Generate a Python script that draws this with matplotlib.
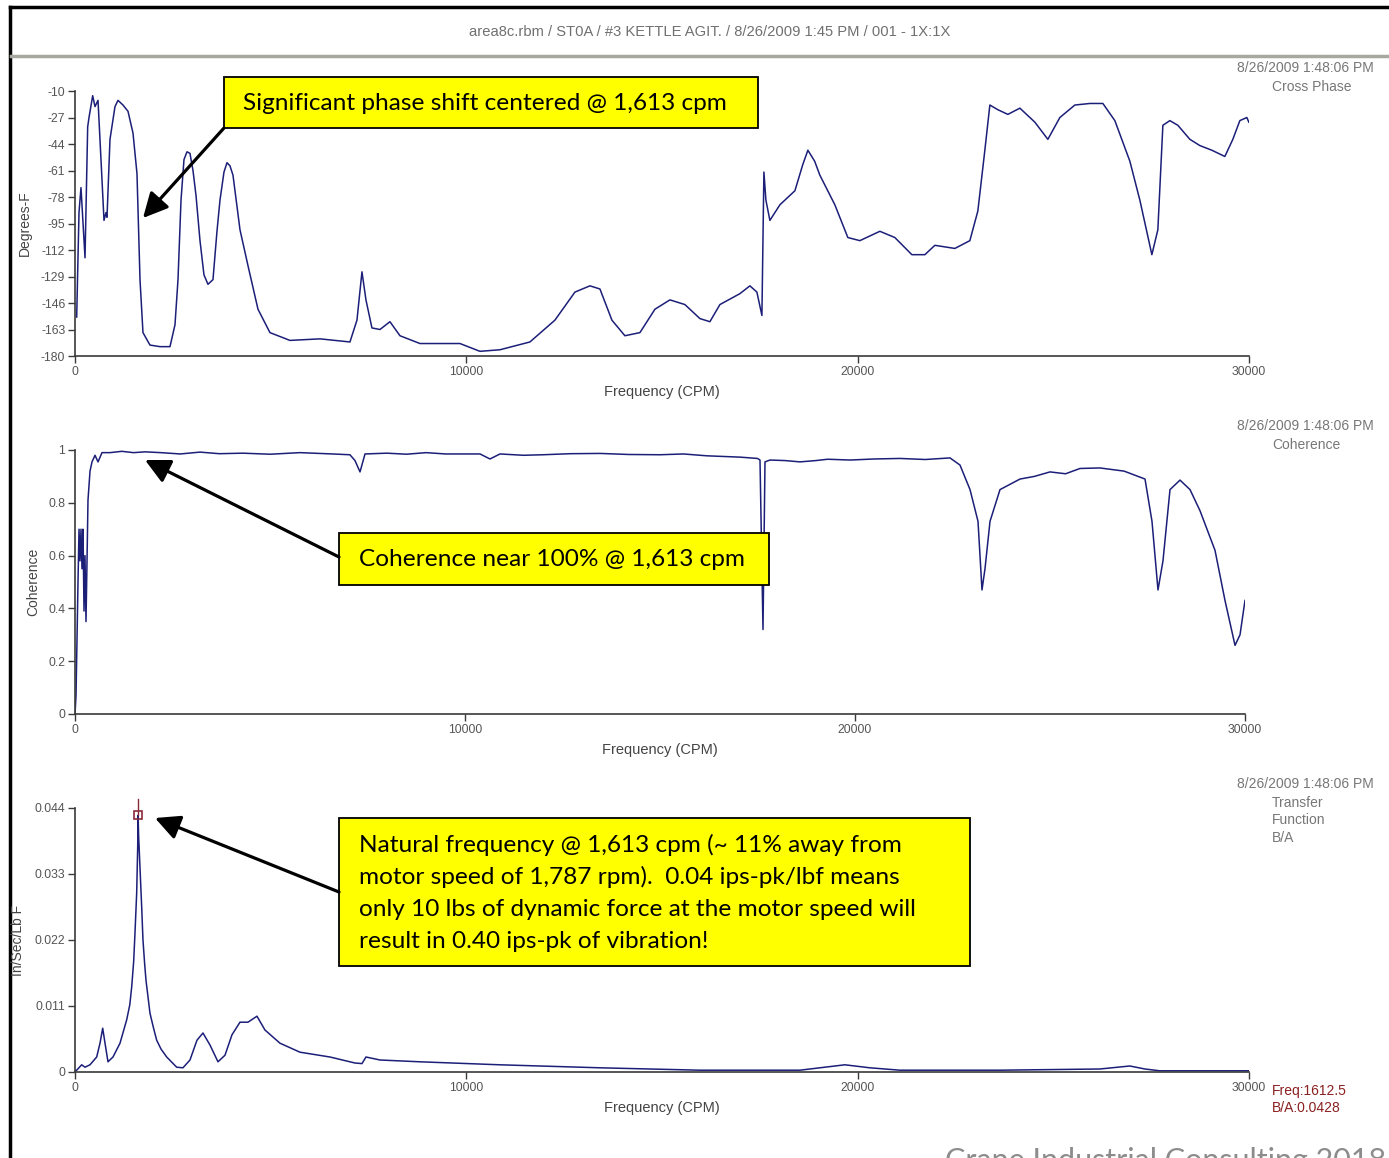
import matplotlib
matplotlib.use("Agg")
import matplotlib.pyplot as plt
from matplotlib.patches import Rectangle, FancyArrowPatch
from matplotlib.lines import Line2D

W, H = 1389, 1158

# ---------------- data ----------------
phase_cpm = [43, 102, 153, 256, 324, 358, 452, 511, 588, 682, 741, 792, 818, 894, 1022, 1099,
             1226, 1354, 1482, 1584, 1661, 1737, 1916, 2172, 2427, 2555, 2632, 2709, 2785, 2862,
             2938, 3015, 3092, 3194, 3296, 3398, 3526, 3628, 3705, 3807, 3884, 3960, 4037,
             4216, 4420, 4676, 4982, 5493, 6260, 7026, 7205, 7333,
             7435, 7588, 7793, 8048, 8304, 8815, 9837, 10348, 10859, 11625, 12264, 12775, 13158,
             13414, 13720, 14052, 14436, 14819, 15202, 15585, 15969, 16224, 16480, 16991, 17246,
             17425, 17553, 17604, 17655, 17757, 18013, 18396, 18600, 18728, 18900, 19034, 19417,
             19749, 20056, 20567, 20950, 21385, 21717, 21973, 22484, 22867, 23071, 23250, 23378,
             23582, 23838, 24145, 24528, 24860, 25167, 25550, 25934, 26266, 26572, 26955, 27211,
             27518, 27671, 27799, 27978, 28182, 28489, 28744, 29051, 29383, 29587, 29766, 29945,
             29996]
phase_deg = [-155, -88, -72, -117, -33, -27, -13, -20, -16, -63, -93, -88, -91, -41, -20, -16,
             -19, -23, -37, -63, -131, -165, -173, -174, -174, -160, -131, -80, -54, -49,
             -50, -61, -77, -106, -128, -134, -131, -100, -80, -62, -56, -58, -64,
             -99, -122, -150, -165, -170, -169, -171, -157, -126,
             -144, -162, -163, -158, -167, -172, -172, -177, -176, -171, -157, -139, -135,
             -137, -157, -167, -165, -150, -144, -147, -156, -158, -147, -140, -135,
             -139, -154, -62, -80, -93, -83, -74, -57, -48, -55, -64, -83,
             -104, -106, -100, -104, -115, -115, -109, -111, -106, -87, -48, -19,
             -22, -25, -21, -30, -41, -27, -19, -18, -18, -29, -55, -80,
             -115, -99, -32, -29, -32, -41, -45, -48, -52, -41, -29, -27,
             -30]

coh_cpm = [0, 26, 51, 77, 103, 128, 154, 179, 205, 231, 256, 282, 308, 333, 385, 436, 513, 590,
           692, 897, 1200, 1500, 1800, 2200, 2700, 3205, 3700, 4300, 5000, 5769, 6600, 7050,
           7179, 7308, 7436, 8000, 8500, 9000, 9500, 10385, 10641, 10897, 11500, 12000, 12700,
           13462, 14200, 15000, 15600, 16200, 17051, 17500, 17564, 17641, 17692, 17821, 18200,
           18590, 19000, 19300, 19872, 20500, 21154, 21800, 22436, 22692, 22949, 23154, 23256,
           23333, 23462, 23718, 24231, 24600, 25000, 25400, 25769, 26282, 26900, 27436, 27615,
           27769, 27897, 28077, 28333, 28590, 28846, 29231, 29487, 29744, 29872, 30000]
coh_val = [0.0, 0.07, 0.28, 0.5, 0.7, 0.58, 0.7, 0.55, 0.7, 0.39, 0.6, 0.35, 0.58, 0.81, 0.92,
           0.955, 0.98, 0.955, 0.99, 0.99, 0.995, 0.99, 0.993, 0.99, 0.985, 0.992, 0.986, 0.988,
           0.984, 0.99, 0.985, 0.982, 0.96, 0.917, 0.985, 0.988, 0.984, 0.99, 0.985, 0.985,
           0.966, 0.985, 0.98, 0.982, 0.986, 0.987, 0.983, 0.982, 0.985, 0.978, 0.973, 0.968,
           0.962, 0.32, 0.955, 0.962, 0.96, 0.955, 0.96, 0.965, 0.962, 0.966, 0.968, 0.964,
           0.97, 0.943, 0.85, 0.73, 0.47, 0.55, 0.73, 0.85, 0.89, 0.9, 0.917, 0.91, 0.93, 0.932,
           0.92, 0.89, 0.73, 0.47, 0.58, 0.85, 0.886, 0.85, 0.77, 0.62, 0.43, 0.26, 0.30, 0.43]

tf_cpm = [0, 43, 171, 256, 383, 554, 639, 708, 767, 843, 971, 1150, 1321, 1400, 1449, 1500,
          1533, 1576, 1602, 1612.5, 1625, 1661, 1704, 1737, 1780, 1814, 1916, 2000, 2087, 2200,
          2343, 2598, 2759, 2938, 3117, 3270, 3449, 3654, 3833, 4011, 4216, 4420, 4650, 4854,
          5238, 5749, 6515, 7154, 7333, 7435, 7793, 8815, 10859, 13414, 15969, 18524, 19034,
          19673, 20312, 21079, 23632, 26189, 26955, 27339, 27722, 28744, 30000]
tf_val = [0.0002, 0.0003, 0.0012, 0.0008, 0.0012, 0.0025, 0.0048, 0.0073, 0.0048, 0.0017,
          0.0025, 0.0048, 0.0087, 0.0112, 0.0142, 0.0185, 0.0232, 0.0298, 0.0375, 0.0428,
          0.0395, 0.0340, 0.0275, 0.0220, 0.0180, 0.0153, 0.0098, 0.0075, 0.0053, 0.0038,
          0.0025, 0.0008, 0.0007, 0.002, 0.0053, 0.0065, 0.0045, 0.0017, 0.0028, 0.0062,
          0.0083, 0.0083, 0.0093, 0.007, 0.0048, 0.0033, 0.0025, 0.0015, 0.0014, 0.0025, 0.002,
          0.0017, 0.0012, 0.0007, 0.0003, 0.0003, 0.0007, 0.0012, 0.0007, 0.0003, 0.0003,
          0.0005, 0.001, 0.0005, 0.0002, 0.0002, 0.0002]

phase_ticks = [-10, -27, -44, -61, -78, -95, -112, -129, -146, -163, -180]
coh_ticks = [0, 0.2, 0.4, 0.6, 0.8, 1]
coh_ticklabels = ["0", "0.2", "0.4", "0.6", "0.8", "1"]
tf_ticks = [0, 0.011, 0.022, 0.033, 0.044]
tf_ticklabels = ["0", "0.011", "0.022", "0.033", "0.044"]
x_ticks = [0, 10000, 20000, 30000]
peak_freq, peak_val = 1612.5, 0.0428

title = "area8c.rbm / ST0A / #3 KETTLE AGIT. / 8/26/2009 1:45 PM / 001 - 1X:1X"
stamp = "8/26/2009 1:48:06 PM"

# ---------------- figure ----------------
fig = plt.figure(figsize=(W / 100, H / 100), dpi=100)
fig.patch.set_facecolor("white")

def fx(px):
    return px / W

def fy(py):
    return 1 - py / H

def add_ax(x0, x1, ytop, ybot):
    return fig.add_axes([fx(x0), fy(ybot), (x1 - x0) / W, (ybot - ytop) / H])

AXC = "#3a3a3a"
TXT = "#555555"
LINE = "#1c1f78"
tickfont = dict(family="Liberation Sans", size=8.8)

def style(ax):
    for s in ("top", "right"):
        ax.spines[s].set_visible(False)
    for s in ("left", "bottom"):
        ax.spines[s].set_color(AXC)
        ax.spines[s].set_linewidth(1.2)
    ax.set_xlim(0, 30000)
    ax.set_xticks(x_ticks)
    ax.set_xticklabels([str(t) for t in x_ticks], fontdict=tickfont, color=TXT)
    ax.tick_params(axis="both", direction="out", length=5, width=1, color=AXC, labelcolor=TXT)
    ax.tick_params(axis="x", pad=2)
    ax.tick_params(axis="y", pad=2)
    ax.set_xlabel("Frequency (CPM)", fontsize=10.5, color="#444444", family="Liberation Sans",
                  labelpad=5)
    ax.set_facecolor("none")
    ax.grid(False)

# Top: cross phase
ax1 = add_ax(75, 1249, 91, 356)
ax1.plot(phase_cpm, phase_deg, color=LINE, lw=1.1)
ax1.set_ylim(-180, -10)
ax1.set_yticks(phase_ticks)
ax1.set_yticklabels([str(t) for t in phase_ticks], fontdict=tickfont)
style(ax1)

# Middle: coherence
ax2 = add_ax(75, 1245, 450, 714)
ax2.plot(coh_cpm, coh_val, color=LINE, lw=1.1)
ax2.set_ylim(0, 1)
ax2.set_yticks(coh_ticks)
ax2.set_yticklabels(coh_ticklabels, fontdict=tickfont)
style(ax2)

# Bottom: transfer function
ax3 = add_ax(75, 1249, 808, 1072)
ax3.plot(tf_cpm, tf_val, color=LINE, lw=1.1)
ax3.set_ylim(0, 0.044)
ax3.set_yticks(tf_ticks)
ax3.set_yticklabels(tf_ticklabels, fontdict=tickfont)
style(ax3)
ax3.plot([peak_freq], [peak_val], marker="s", ms=6, mfc="none", mec="#8a2b3a", mew=1.2,
         clip_on=False)
ax3.plot([peak_freq, peak_freq], [peak_val, 0.0455], color="#8a2b3a", lw=1, clip_on=False)

# y labels
for px, py, lab in ((25, 223, "Degrees-F"), (33, 582, "Coherence"), (18, 940, "In/Sec/Lb F")):
    fig.text(fx(px), fy(py), lab, rotation=90, ha="center", va="center",
             fontsize=10, color="#444444", family="Liberation Sans")

# header + frame
fig.add_artist(Line2D([fx(10), fx(10)], [fy(7), 0], color="black", lw=2.5))
fig.add_artist(Line2D([fx(10), 1], [fy(7), fy(7)], color="black", lw=2.5))
fig.add_artist(Line2D([fx(11), 1], [fy(56), fy(56)], color="#a8a8a0", lw=2.5))
fig.text(fx(710), fy(32), title, ha="center", va="center", fontsize=10.6, color="#707070",
         family="Liberation Sans")

# right side labels
for ystamp, lab in ((68, ["Cross Phase"]), (426, ["Coherence"]),
                    (784, ["Transfer", "Function", "B/A"])):
    fig.text(fx(1305), fy(ystamp), stamp, ha="center", va="center", fontsize=10,
             color="#777777", family="Liberation Sans")
    for i, l in enumerate(lab):
        fig.text(fx(1272), fy(ystamp + 19 + 17.5 * i), l, ha="left", va="center", fontsize=10,
                 color="#777777", family="Liberation Sans")

fig.text(fx(1272), fy(1091), f"Freq:{peak_freq}", ha="left", va="center", fontsize=10,
         color="#8a2020", family="Liberation Sans")
fig.text(fx(1272), fy(1108), f"B/A:{peak_val}", ha="left", va="center", fontsize=10,
         color="#8a2020", family="Liberation Sans")

# callout boxes
ANN = dict(family="Lato", size=17.6, color="black")

def box(x0, y0, x1, y1):
    fig.add_artist(Rectangle((fx(x0), fy(y1)), (x1 - x0) / W, (y1 - y0) / H,
                             transform=fig.transFigure, facecolor="#ffff00",
                             edgecolor="black", lw=1.3, zorder=5))

def arrow(xs, ys, xe, ye):
    fig.add_artist(FancyArrowPatch(
        (fx(xs), fy(ys)), (fx(xe), fy(ye)), transform=fig.transFigure,
        arrowstyle="-|>,head_length=1.0,head_width=0.5", mutation_scale=15,
        color="black", lw=2.3, zorder=6, shrinkA=0, shrinkB=0))

box(224, 77, 758, 128)
fig.text(fx(243), fy(103), "Significant phase shift centered @ 1,613 cpm", ha="left",
         va="center", zorder=7, **ANN)
arrow(224, 128, 143, 218)

box(339, 533, 769, 585)
fig.text(fx(359), fy(559), "Coherence near 100% @ 1,613 cpm", ha="left", va="center",
         zorder=7, **ANN)
arrow(339, 557, 145, 460)

box(339, 818, 970, 966)
lines = ["Natural frequency @ 1,613 cpm (~ 11% away from",
         "motor speed of 1,787 rpm).  0.04 ips-pk/lbf means",
         "only 10 lbs of dynamic force at the motor speed will",
         "result in 0.40 ips-pk of vibration!"]
for i, l in enumerate(lines):
    fig.text(fx(359), fy(845 + 32 * i), l, ha="left", va="center", zorder=7, **ANN)
arrow(339, 892, 155, 818)

# footer watermark (clipped by the slide edge in the reference)
fig.text(fx(945), fy(1147), "Crane Industrial Consulting 2018", ha="left", va="top",
         fontsize=22, color="#8c8c8c", family="Lato")

fig.savefig("out.png", dpi=100, facecolor="white")
